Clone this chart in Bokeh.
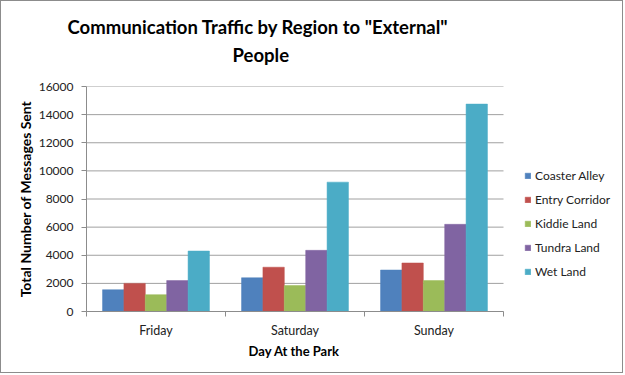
import numpy as np
from bokeh.plotting import figure
from bokeh.models import (ColumnDataSource, FixedTicker, Legend, LegendItem,
                          Title, Range1d)
from bokeh.embed import file_html
from bokeh.resources import INLINE

days = ["Friday", "Saturday", "Sunday"]
regions = ["Coaster Alley", "Entry Corridor", "Kiddie Land", "Tundra Land", "Wet Land"]
coaster_alley = [1550, 2400, 2950]
entry_corridor = [2000, 3150, 3450]
kiddie_land = [1200, 1850, 2200]
tundra_land = [2200, 4350, 6200]
wet_land = [4300, 9200, 14750]
series = [coaster_alley, entry_corridor, kiddie_land, tundra_land, wet_land]
colors = ["#4F81BD", "#C0504D", "#9BBB59", "#8064A2", "#4BACC6"]
y_ticks = [0, 2000, 4000, 6000, 8000, 10000, 12000, 14000, 16000]

FONT = "Lato"
W, H = 623, 373
LEFT, TOP, BOTTOM = 85, 85, 63
PLOT_W = 417           # width of the bar area (categories)
FRAME_W = W - LEFT     # frame extends under the legend area
n_days = len(days)

p = figure(width=W, height=H, output_backend="svg", toolbar_location=None,
           x_range=Range1d(0, n_days * FRAME_W / PLOT_W), y_range=Range1d(0, 16000),
           min_border_left=LEFT, min_border_right=0, min_border_top=TOP,
           min_border_bottom=BOTTOM, title=None)
p.styles = {"border": "1px solid #8c8c8c"}
p.outline_line_color = None
p.background_fill_color = "white"
p.border_fill_color = "white"

# horizontal grid lines limited to the category area
p.xgrid.grid_line_color = None
p.ygrid.grid_line_color = None
p.segment(x0=[0] * len(y_ticks), x1=[n_days] * len(y_ticks), y0=y_ticks, y1=y_ticks,
          line_color="#a0a0a0", line_width=1, level="underlay")

n = len(regions)
w = 1.0 / 6.5
centers = np.arange(n_days) + 0.5
items = []
for k, (name, vals, col) in enumerate(zip(regions, series, colors)):
    src = ColumnDataSource(dict(x=centers + (k - (n - 1) / 2) * w, top=vals))
    r = p.vbar(x="x", top="top", width=w, source=src, fill_color=col,
               line_color=col, line_width=0.5)
    items.append(LegendItem(label=name, renderers=[r]))

# x axis
p.xaxis.bounds = (0, n_days)
p.xaxis.ticker = FixedTicker(ticks=list(centers), minor_ticks=list(range(n_days + 1)))
p.xaxis.major_label_overrides = {float(c): d for c, d in zip(centers, days)}
p.xaxis.major_tick_line_color = None
p.xaxis.minor_tick_line_color = "#8c8c8c"
p.xaxis.minor_tick_out = 5
p.xaxis.minor_tick_in = 0
p.xaxis.axis_line_color = "#8c8c8c"
p.xaxis.major_label_text_font = FONT
p.xaxis.major_label_text_font_size = "12.5px"
p.xaxis.major_label_text_color = "#222222"
p.xaxis.major_label_standoff = 5

# y axis
p.yaxis.ticker = FixedTicker(ticks=y_ticks, minor_ticks=[])
p.yaxis.major_tick_line_color = "#8c8c8c"
p.yaxis.major_tick_out = 5
p.yaxis.major_tick_in = 0
p.yaxis.axis_line_color = "#8c8c8c"
p.yaxis.major_label_text_font = FONT
p.yaxis.major_label_text_font_size = "12px"
p.yaxis.major_label_text_color = "#222222"
p.yaxis.major_label_standoff = 8
p.yaxis.axis_label = "Total Number of Messages Sent"
p.yaxis.axis_label_text_font = FONT
p.yaxis.axis_label_text_font_style = "bold"
p.yaxis.axis_label_text_font_size = "14px"
p.yaxis.axis_label_text_color = "black"
p.yaxis.axis_label_standoff = 2

# x axis title, centred under the category area
xt = Title(text="Day At the Park", align="left", text_font=FONT,
           text_font_size="13px", text_font_style="bold", text_color="black",
           offset=162, standoff=0)
p.add_layout(xt, "below")

# chart title (two lines)
t2 = Title(text="People", align="left", text_font=FONT, text_font_size="18.5px",
           text_font_style="bold", text_color="black", offset=146, standoff=42)
t1 = Title(text='Communication Traffic by Region to "External"', align="left",
           text_font=FONT, text_font_size="18.5px", text_font_style="bold",
           text_color="black", offset=-19, standoff=-34)
p.add_layout(t2, "above")
p.add_layout(t1, "above")

legend = Legend(items=items, location=(438, 32), orientation="vertical",
                glyph_width=7, glyph_height=7, label_height=12, spacing=9,
                label_standoff=4, padding=0, margin=0,
                label_text_font=FONT, label_text_font_size="12px",
                label_text_color="#222222", border_line_color=None,
                background_fill_alpha=0)
p.add_layout(legend, "center")

open("out.html", "w").write(file_html(p, INLINE))
